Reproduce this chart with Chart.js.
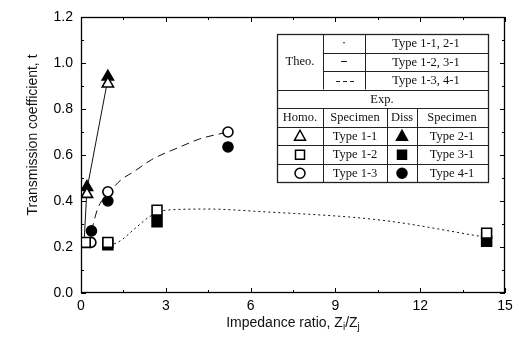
<!DOCTYPE html>
<html>
<head>
<meta charset="utf-8">
<script src="https://cdn.jsdelivr.net/npm/chart.js@4/dist/chart.umd.min.js"></script>
<style>
html,body{margin:0;padding:0;background:#fff;}
#wrap{position:relative;width:519px;height:349px;}
</style>
</head>
<body>
<div id="wrap"><canvas id="c" width="519" height="349"></canvas></div>
<script>
// ---- Data ----
const xTicks = [0, 3, 6, 9, 12, 15];
const yTicks = [0.0, 0.2, 0.4, 0.6, 0.8, 1.0, 1.2];

// Experimental points (impedance ratio, transmission coefficient)
const type11X = [0.21, 0.95];            const type11Y = [0.43, 0.91];   // Homo, open triangle
const type21X = [0.21, 0.95];            const type21Y = [0.46, 0.94];   // Diss, filled triangle
const type12X = [0.15, 0.95, 2.69, 14.35]; const type12Y = [0.22, 0.22, 0.36, 0.26]; // open square
const type31X = [0.95, 2.69, 14.35];     const type31Y = [0.21, 0.31, 0.225];        // filled square
const type13X = [0.35, 0.95, 5.2];       const type13Y = [0.22, 0.44, 0.70];         // open circle
const type41X = [0.37, 0.95, 5.2];       const type41Y = [0.27, 0.40, 0.635];        // filled circle

// Theoretical curves
const theo1X = [0.1, 0.21, 0.95];        const theo1Y = [0.2, 0.45, 0.93];           // solid
const theo2X = [1.0, 1.3, 2.0, 2.4, 3.0, 4.5, 6.2, 10.6, 14.2];
const theo2Y = [0.21, 0.22, 0.29, 0.33, 0.36, 0.365, 0.355, 0.317, 0.245];          // dotted
const theo3X = [0.37, 0.6, 0.95, 1.4, 1.9, 2.5, 3.5, 4.2, 5.2];
const theo3Y = [0.27, 0.37, 0.43, 0.49, 0.53, 0.58, 0.635, 0.67, 0.70];             // dashed

// Legend table text
const theoLabels = ['Type 1-1, 2-1', 'Type 1-2, 3-1', 'Type 1-3, 4-1'];
const homoLabels = ['Type 1-1', 'Type 1-2', 'Type 1-3'];
const dissLabels = ['Type 2-1', 'Type 3-1', 'Type 4-1'];

const pts = (xs, ys) => xs.map((x, i) => ({x: x, y: ys[i]}));

function lineDs(xs, ys, dash, order, smooth) {
  return {data: pts(xs, ys), showLine: true, borderColor: '#111', borderWidth: 1,
    borderDash: dash, pointRadius: 0, fill: false, tension: smooth ? 0.35 : 0,
    cubicInterpolationMode: smooth ? 'monotone' : 'default', order: order};
}
function markDs(xs, ys, style, filled, r, order) {
  return {data: pts(xs, ys), showLine: false, pointStyle: style, pointRadius: r,
    pointBorderWidth: 1.6, pointBorderColor: '#000',
    pointBackgroundColor: filled ? '#000' : '#fff', order: order};
}

const FONT_SANS = '"Liberation Sans", Arial, sans-serif';
const FONT_SERIF = '"Liberation Serif", "Times New Roman", serif';

const decor = {
  id: 'decor',
  afterDraw(chart) {
    const ctx = chart.ctx;
    const a = chart.chartArea;
    const xs = chart.scales.x, ys = chart.scales.y;
    ctx.save();
    // frame
    ctx.strokeStyle = '#000';
    ctx.lineWidth = 1.3;
    ctx.strokeRect(a.left + 0.5, a.top + 0.5, a.right - a.left - 1, a.bottom - a.top - 1);
    // inward ticks
    ctx.lineWidth = 1;
    for (let v = 0; v <= 15.001; v += 1.5) {
      const px = Math.round(xs.getPixelForValue(v)) + 0.5;
      const major = Math.abs(v / 3 - Math.round(v / 3)) < 1e-6;
      const len = major ? 5 : 3;
      ctx.beginPath();
      ctx.moveTo(px, a.bottom); ctx.lineTo(px, a.bottom - len);
      ctx.moveTo(px, a.top); ctx.lineTo(px, a.top + len);
      ctx.stroke();
    }
    for (let k = 0; k <= 12; k++) {
      const v = k / 10;
      const py = Math.round(ys.getPixelForValue(v)) + 0.5;
      const len = (k % 2 === 0) ? 5 : 3;
      ctx.beginPath();
      ctx.moveTo(a.left, py); ctx.lineTo(a.left + len, py);
      ctx.moveTo(a.right, py); ctx.lineTo(a.right - len, py);
      ctx.stroke();
    }
    // Y title
    ctx.fillStyle = '#111';
    ctx.font = '14px ' + FONT_SANS;
    ctx.save();
    ctx.translate(33, 135);
    ctx.rotate(-Math.PI / 2);
    ctx.textAlign = 'center'; ctx.textBaseline = 'middle';
    ctx.fillText('Transmission coefficient, t', 0, 0);
    ctx.restore();
    // X title with subscripts
    const parts = [['Impedance ratio, Z', 14, 0], ['i', 10, 4], ['/Z', 14, 0], ['j', 10, 4]];
    let total = 0;
    parts.forEach(p => { ctx.font = p[1] + 'px ' + FONT_SANS; total += ctx.measureText(p[0]).width; });
    let cx = 293 - total / 2;
    ctx.textAlign = 'left'; ctx.textBaseline = 'middle';
    parts.forEach(p => {
      ctx.font = p[1] + 'px ' + FONT_SANS;
      ctx.fillText(p[0], cx, 323 + p[2]);
      cx += ctx.measureText(p[0]).width;
    });

    // Legend table
    const L = 277, R = 488, T = 34, rh = 18.5;
    const B = T + rh * 8;
    ctx.fillStyle = '#fff';
    ctx.fillRect(L, T, R - L, B - T);
    ctx.strokeStyle = '#222';
    ctx.lineWidth = 1;
    const hl = (x1, x2, y) => { ctx.beginPath(); ctx.moveTo(x1, Math.round(y) + 0.5); ctx.lineTo(x2, Math.round(y) + 0.5); ctx.stroke(); };
    const vl = (x, y1, y2) => { ctx.beginPath(); ctx.moveTo(Math.round(x) + 0.5, y1); ctx.lineTo(Math.round(x) + 0.5, y2); ctx.stroke(); };
    ctx.lineWidth = 1.3;
    ctx.strokeRect(L + 0.5, T + 0.5, R - L, B - T);
    ctx.lineWidth = 1;
    hl(323, R, T + rh); hl(323, R, T + rh * 2);
    for (let i = 3; i <= 7; i++) hl(L, R, T + rh * i);
    vl(323, T, T + rh * 3); vl(365, T, T + rh * 3);
    vl(323, T + rh * 4, B); vl(387, T + rh * 4, B); vl(417, T + rh * 4, B);

    ctx.fillStyle = '#111';
    ctx.font = '12.5px ' + FONT_SERIF;
    ctx.textAlign = 'center'; ctx.textBaseline = 'middle';
    const rowY = i => T + rh * i + rh / 2 + 0.5;
    ctx.fillText('Theo.', 300, T + rh * 1.5);
    theoLabels.forEach((t, i) => ctx.fillText(t, 426, rowY(i)));
    // line-style samples
    ctx.lineWidth = 1;
    ctx.beginPath(); ctx.arc(344, rowY(0) - 1, 0.8, 0, Math.PI * 2); ctx.fill();
    hl(341, 347, rowY(1) - 1);
    [336, 343, 350].forEach(x0 => hl(x0, x0 + 4, rowY(2)));
    ctx.fillText('Exp.', 382, rowY(3));
    ctx.fillText('Homo.', 300, rowY(4));
    ctx.fillText('Specimen', 355, rowY(4));
    ctx.fillText('Diss', 402, rowY(4));
    ctx.fillText('Specimen', 452, rowY(4));
    homoLabels.forEach((t, i) => ctx.fillText(t, 355, rowY(5 + i)));
    dissLabels.forEach((t, i) => ctx.fillText(t, 452, rowY(5 + i)));
    // symbols
    const sym = (shape, filled, x, y) => {
      ctx.beginPath();
      if (shape === 'tri') { ctx.moveTo(x, y - 6); ctx.lineTo(x + 5.5, y + 4); ctx.lineTo(x - 5.5, y + 4); ctx.closePath(); }
      else if (shape === 'sq') { ctx.rect(x - 4.5, y - 4.5, 9, 9); }
      else { ctx.arc(x, y, 5, 0, Math.PI * 2); }
      ctx.lineWidth = 1.5;
      ctx.fillStyle = filled ? '#000' : '#fff';
      ctx.fill();
      ctx.strokeStyle = '#000';
      ctx.stroke();
    };
    ['tri', 'sq', 'circ'].forEach((s, i) => {
      sym(s, false, 300, rowY(5 + i));
      sym(s, true, 402, rowY(5 + i));
    });
    ctx.restore();
  }
};

new Chart(document.getElementById('c'), {
  type: 'scatter',
  data: {
    datasets: [
      markDs(type11X, type11Y, 'triangle', false, 6.5, 1),
      markDs(type21X, type21Y, 'triangle', true, 6.5, 2),
      markDs(type12X, type12Y, 'rect', false, 7, 3),
      markDs(type31X, type31Y, 'rect', true, 7, 4),
      markDs(type13X, type13Y, 'circle', false, 5, 5),
      markDs(type41X, type41Y, 'circle', true, 5, 6),
      lineDs(theo1X, theo1Y, [], 10, false),
      lineDs(theo2X, theo2Y, [2, 3], 11, true),
      lineDs(theo3X, theo3Y, [8, 5], 12, true)
    ]
  },
  options: {
    responsive: false,
    animation: false,
    layout: {padding: {left: 0, right: 14, top: 17, bottom: 0}},
    plugins: {legend: {display: false}, tooltip: {enabled: false}},
    scales: {
      x: {
        type: 'linear', min: 0, max: 15,
        afterBuildTicks: s => { s.ticks = xTicks.map(v => ({value: v})); },
        afterFit: s => { s.height = 56; },
        grid: {display: false, drawTicks: false},
        border: {display: false},
        ticks: {color: '#000', font: {family: FONT_SANS, size: 14}, padding: 5, maxRotation: 0,
          callback: v => String(v)}
      },
      y: {
        type: 'linear', min: 0, max: 1.2,
        afterBuildTicks: s => { s.ticks = yTicks.map(v => ({value: v})); },
        afterFit: s => { s.width = 81; },
        grid: {display: false, drawTicks: false},
        border: {display: false},
        ticks: {color: '#000', font: {family: FONT_SANS, size: 14}, padding: 8,
          callback: v => Number(v).toFixed(1)}
      }
    }
  },
  plugins: [decor]
});
</script>
</body>
</html>
